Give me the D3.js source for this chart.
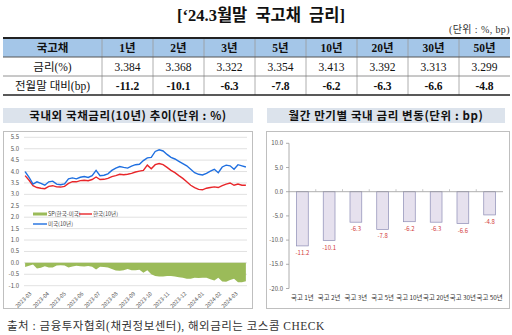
<!DOCTYPE html>
<html>
<head>
<meta charset="utf-8">
<script src="https://cdn.jsdelivr.net/npm/d3@7"></script>
<style>
  body { margin: 0; background: #fff; }
  svg { display: block; }
</style>
</head>
<body>
<svg id="chart" width="512" height="335"></svg>
<script>
// ---- Month-end government bond yields (table + bar chart) ----
const tenors = ["1년", "2년", "3년", "5년", "10년", "20년", "30년", "50년"];
const rates = [3.384, 3.368, 3.322, 3.354, 3.413, 3.392, 3.313, 3.299];
const changes = [-11.2, -10.1, -6.3, -7.8, -6.2, -6.3, -6.6, -4.8];
const barLabels = ["국고 1년", "국고 2년", "국고 3년", "국고 5년", "국고 10년", "국고 20년", "국고 30년", "국고 50년"];

// ---- 10Y yields, weekly (Fridays, 2023-03-03 .. 2024-03-29) ----
const usYield = [4.00, 3.75, 3.45, 3.55, 3.48, 3.40, 3.55, 3.58, 3.45, 3.42,
                 3.46, 3.68, 3.72, 3.68, 3.75, 3.78, 3.74, 3.82, 4.05, 3.82,
                 3.84, 3.90, 4.05, 4.15, 4.22, 4.18, 4.15, 4.24, 4.30, 4.32,
                 4.48, 4.60, 4.62, 4.88, 4.95, 4.90, 4.75, 4.62, 4.55, 4.45,
                 4.35, 4.25, 4.10, 3.95, 3.88, 3.85, 3.92, 4.02, 4.10, 3.95,
                 4.20, 4.28, 4.25, 4.10, 4.30, 4.25, 4.20];
const krYield = [3.82, 3.62, 3.38, 3.30, 3.27, 3.25, 3.35, 3.38, 3.33, 3.32,
                 3.35, 3.48, 3.56, 3.55, 3.60, 3.62, 3.60, 3.65, 3.76, 3.65,
                 3.66, 3.70, 3.78, 3.82, 3.88, 3.86, 3.88, 3.92, 3.98, 4.02,
                 4.05, 4.28, 4.12, 4.30, 4.35, 4.30, 4.18, 4.05, 3.95, 3.82,
                 3.70, 3.55, 3.40, 3.30, 3.22, 3.20, 3.27, 3.30, 3.33, 3.30,
                 3.38, 3.45, 3.50, 3.40, 3.45, 3.40, 3.40];
const lineTicks = [5.5, 5.0, 4.5, 4.0, 3.5, 3.0, 2.5, 2.0, 1.5, 1.0, 0.5, 0.0, -0.5, -1.0];
const monthLabels = ["2023-03", "2023-04", "2023-05", "2023-06", "2023-07", "2023-08", "2023-09",
                     "2023-10", "2023-11", "2023-12", "2024-01", "2024-02", "2024-03"];
const barTicks = [10, 5, 0, -5, -10, -15, -20];

const svg = d3.select("#chart");
const SERIF = "'Liberation Serif', 'Noto Sans CJK KR', serif";
const SANS = "'Noto Sans CJK KR', 'Noto Sans', sans-serif";

svg.append("rect").attr("width", 512).attr("height", 335).attr("fill", "#fff");

// ---------- Title ----------
svg.append("text").attr("x", 261).attr("y", 21).attr("text-anchor", "middle")
  .attr("font-family", SERIF).attr("font-weight", "bold").attr("font-size", 16.5).attr("fill", "#111")
  .attr("word-spacing", 4)
  .text("[‘24.3월말 국고채 금리]");
svg.append("text").attr("x", 510).attr("y", 33).attr("text-anchor", "end")
  .attr("font-family", SERIF).attr("font-size", 10).attr("fill", "#333")
  .attr("letter-spacing", 0.4)
  .text("(단위 : %, bp)");

// ---------- Table ----------
const tLeft = 3, tFirst = 102, tRight = 510;
const rowY = [38, 57, 76, 95];
const colX = d3.scaleBand().domain(tenors).range([tFirst, tRight]);
const table = svg.append("g");
table.append("rect").attr("x", tLeft).attr("y", rowY[0]).attr("width", tRight - tLeft)
  .attr("height", rowY[1] - rowY[0]).attr("fill", "#a4c6e8");
// vertical separators
[tFirst, ...tenors.slice(1).map(t => colX(t))].forEach(x => {
  table.append("line").attr("x1", x).attr("x2", x).attr("y1", rowY[0]).attr("y2", rowY[3])
    .attr("stroke", "#9a9a9a").attr("stroke-width", 0.8);
});
// horizontal rules
table.append("line").attr("x1", tLeft).attr("x2", tRight).attr("y1", rowY[0]).attr("y2", rowY[0])
  .attr("stroke", "#222").attr("stroke-width", 2);
table.append("line").attr("x1", tLeft).attr("x2", tRight).attr("y1", rowY[1]).attr("y2", rowY[1])
  .attr("stroke", "#555").attr("stroke-width", 1);
table.append("line").attr("x1", tLeft).attr("x2", tRight).attr("y1", rowY[2]).attr("y2", rowY[2])
  .attr("stroke", "#777").attr("stroke-width", 0.8);
table.append("line").attr("x1", tLeft).attr("x2", tRight).attr("y1", rowY[3]).attr("y2", rowY[3])
  .attr("stroke", "#222").attr("stroke-width", 1.5);

const cellText = (x, row, txt, bold) => table.append("text")
  .attr("x", x).attr("y", (rowY[row] + rowY[row + 1]) / 2 + 4).attr("text-anchor", "middle")
  .attr("font-family", SERIF).attr("font-size", 11.5).attr("font-weight", bold ? "bold" : "normal")
  .attr("fill", "#111").text(txt);
const firstMid = (tLeft + tFirst) / 2;
cellText(firstMid, 0, "국고채", true);
cellText(firstMid, 1, "금리(%)", false);
cellText(firstMid, 2, "전월말 대비(bp)", false);
tenors.forEach((t, i) => {
  const cx = colX(t) + colX.bandwidth() / 2;
  cellText(cx, 0, t, true);
  cellText(cx, 1, rates[i].toFixed(3), false);
  cellText(cx, 2, changes[i].toFixed(1), true);
});

// ---------- Panel frames and headers ----------
function panel(x0, x1, title) {
  svg.append("rect").attr("x", x0).attr("y", 108).attr("width", x1 - x0).attr("height", 15)
    .attr("fill", "#dce3ec");
  svg.append("text").attr("x", (x0 + x1) / 2).attr("y", 120).attr("text-anchor", "middle")
    .attr("font-family", SANS).attr("font-weight", "bold").attr("font-size", 11.5).attr("fill", "#111")
    .attr("letter-spacing", 0.6)
    .text(title);
}
panel(3, 253, "국내외 국채금리(10년) 추이(단위 : %)");
panel(267, 505, "월간 만기별 국내 금리 변동(단위 : bp)");
svg.append("rect").attr("x", 3.5).attr("y", 131.5).attr("width", 249).attr("height", 177)
  .attr("fill", "none").attr("stroke", "#bfbfbf");
svg.append("rect").attr("x", 266.5).attr("y", 131.5).attr("width", 243).attr("height", 177)
  .attr("fill", "none").attr("stroke", "#bfbfbf");

// ---------- Left: 10Y yields and spread ----------
const dates = d3.timeFriday.range(new Date(2023, 2, 3), new Date(2024, 2, 30));
const series = dates.map((d, i) => ({ date: d, us: usYield[i], kr: krYield[i], sp: krYield[i] - usYield[i] }));
const xL = d3.scaleTime().domain([new Date(2023, 2, 1), new Date(2024, 2, 31)]).range([24, 247]);
const yL = d3.scaleLinear().domain([-1, 5.5]).range([285.7, 137.3]);
const gL = svg.append("g");

gL.selectAll(".grid").data(lineTicks).join("line")
  .attr("x1", 24).attr("x2", 247).attr("y1", d => yL(d)).attr("y2", d => yL(d))
  .attr("stroke", "#d9d9d9").attr("stroke-width", 0.8);
gL.selectAll(".ylab").data(lineTicks).join("text")
  .attr("x", 19).attr("y", d => yL(d) + 2).attr("text-anchor", "end")
  .attr("font-family", SANS).attr("font-size", 6).attr("fill", "#555")
  .text(d => d.toFixed(1));

gL.append("path").datum(series)
  .attr("d", d3.area().x(d => xL(d.date)).y0(yL(0)).y1(d => yL(d.sp)))
  .attr("fill", "#9bbb59");
gL.append("path").datum(series)
  .attr("d", d3.line().x(d => xL(d.date)).y(d => yL(d.kr)))
  .attr("fill", "none").attr("stroke", "#e8262a").attr("stroke-width", 1.4);
gL.append("path").datum(series)
  .attr("d", d3.line().x(d => xL(d.date)).y(d => yL(d.us)))
  .attr("fill", "none").attr("stroke", "#1f6fe0").attr("stroke-width", 1.4);

monthLabels.forEach(m => {
  const [yy, mm] = m.split("-").map(Number);
  const x = xL(new Date(yy, mm - 1, 1)) + 8;
  gL.append("text").attr("transform", `translate(${x},${294}) rotate(-45)`)
    .attr("text-anchor", "end").attr("font-family", SANS).attr("font-size", 5.5).attr("fill", "#555")
    .text(m);
});

// legend
const lg = gL.append("g").attr("font-family", SANS).attr("font-size", 5.5).attr("fill", "#444");
lg.append("rect").attr("x", 33).attr("y", 212.5).attr("width", 14).attr("height", 3).attr("fill", "#9bbb59");
lg.append("text").attr("x", 48).attr("y", 216).text("SP(한국-미국)");
lg.append("line").attr("x1", 79).attr("x2", 92).attr("y1", 214).attr("y2", 214).attr("stroke", "#e8262a").attr("stroke-width", 1.4);
lg.append("text").attr("x", 93).attr("y", 216).text("한국(10년)");
lg.append("line").attr("x1", 33).attr("x2", 47).attr("y1", 224).attr("y2", 224).attr("stroke", "#1f6fe0").attr("stroke-width", 1.4);
lg.append("text").attr("x", 48).attr("y", 226).text("미국(10년)");

// ---------- Right: monthly change by tenor ----------
const xB = d3.scaleBand().domain(barLabels).range([289, 503]).paddingInner(0.56).paddingOuter(0.28);
const yB = d3.scaleLinear().domain([-20, 10]).range([288.5, 143.3]);
const gB = svg.append("g");

gB.append("line").attr("x1", 289).attr("x2", 289).attr("y1", yB(10)).attr("y2", yB(-20))
  .attr("stroke", "#9a9a9a").attr("stroke-width", 0.8);
gB.selectAll(".ytick").data(barTicks).join("line")
  .attr("x1", 286).attr("x2", 289).attr("y1", d => yB(d)).attr("y2", d => yB(d))
  .attr("stroke", "#9a9a9a").attr("stroke-width", 0.8);
gB.selectAll(".ylab").data(barTicks).join("text")
  .attr("x", 283).attr("y", d => yB(d) + 2).attr("text-anchor", "end")
  .attr("font-family", SANS).attr("font-size", 6).attr("fill", "#555")
  .text(d => d.toFixed(1));

gB.selectAll(".bar").data(changes).join("rect")
  .attr("x", (d, i) => xB(barLabels[i])).attr("width", xB.bandwidth())
  .attr("y", yB(0)).attr("height", d => yB(d) - yB(0))
  .attr("fill", "#e6e1ee").attr("stroke", "#8d8db5").attr("stroke-width", 0.7);

gB.append("line").attr("x1", 289).attr("x2", 503).attr("y1", yB(0)).attr("y2", yB(0))
  .attr("stroke", "#9a9a9a").attr("stroke-width", 0.8);
barLabels.slice(1).forEach(c => {
  const x = xB(c) - xB.step() * xB.paddingInner() / 2;
  gB.append("line").attr("x1", x).attr("x2", x).attr("y1", yB(0) - 2.5).attr("y2", yB(0))
    .attr("stroke", "#b0b0b0").attr("stroke-width", 0.7);
});

gB.selectAll(".val").data(changes).join("text")
  .attr("x", (d, i) => xB(barLabels[i]) + xB.bandwidth() / 2).attr("y", d => yB(d) + 9)
  .attr("text-anchor", "middle").attr("font-family", SANS).attr("font-size", 6).attr("fill", "#d23a3a")
  .text(d => d.toFixed(1));

gB.selectAll(".cat").data(barLabels).join("text")
  .attr("x", d => xB(d) + xB.bandwidth() / 2).attr("y", 300)
  .attr("text-anchor", "middle").attr("font-family", SANS).attr("font-size", 6.4).attr("fill", "#333")
  .text(d => d);

// ---------- Source note ----------
svg.append("text").attr("x", 7).attr("y", 330)
  .attr("font-family", SERIF).attr("font-size", 11.5).attr("fill", "#333")
  .attr("letter-spacing", 0.5)
  .text("출처 : 금융투자협회(채권정보센터), 해외금리는 코스콤 CHECK");
</script>
</body>
</html>
